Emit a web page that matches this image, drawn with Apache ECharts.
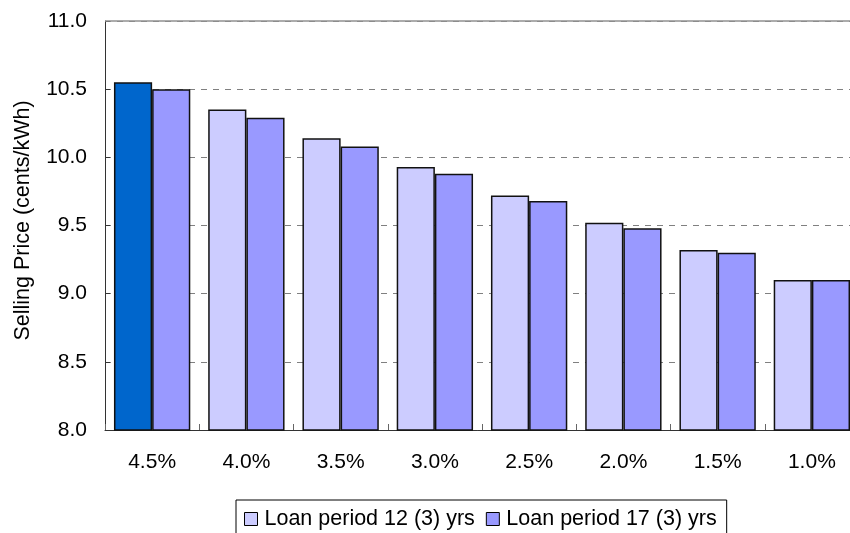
<!DOCTYPE html>
<html>
<head>
<meta charset="utf-8">
<script src="https://cdn.jsdelivr.net/npm/echarts@6/dist/echarts.min.js"></script>
<style>
  html, body { margin: 0; padding: 0; background: #fff; overflow: hidden; }
  #chart { width: 850px; height: 533px; }
</style>
</head>
<body>
<div id="chart"></div>
<script>
// Interest rate categories along the x axis
const rates = ['4.5%', '4.0%', '3.5%', '3.0%', '2.5%', '2.0%', '1.5%', '1.0%'];
// Selling price (cents/kWh) for each loan period
const loan12 = [10.55, 10.35, 10.14, 9.93, 9.72, 9.52, 9.32, 9.10];
const loan17 = [10.50, 10.29, 10.08, 9.88, 9.68, 9.48, 9.30, 9.10];
const seriesNames = ['Loan period 12 (3) yrs', 'Loan period 17 (3) yrs'];
const yTicks = { min: 8.0, max: 11.0, interval: 0.5 };

const FONT = '"Liberation Sans", Arial, sans-serif';
const lightColor = '#CCCCFF';
const midColor = '#9999FF';
const highlight = '#0066CC';

const chart = echarts.init(document.getElementById('chart'), null, { renderer: 'canvas' });

const loan12Data = loan12.map((v, i) => i === 0
  ? { value: v, itemStyle: { color: highlight } }
  : v);

chart.setOption({
  animation: false,
  backgroundColor: '#ffffff',
  textStyle: { fontFamily: FONT },
  // plot area runs slightly past the right edge of the canvas
  grid: { left: 105, top: 21, width: 754, height: 409, outerBoundsMode: 'none', containLabel: false },
  legend: {
    top: 500, left: 236,
    itemWidth: 13, itemHeight: 13, itemGap: 11,
    borderColor: '#000', borderWidth: 1, padding: [8, 10, 12, 8],
    textStyle: { fontFamily: FONT, fontSize: 21.5, color: '#000', padding: [0, 0, 0, 2] },
    data: seriesNames.map((n, i) => ({
      name: n,
      icon: 'rect',
      itemStyle: { color: i === 0 ? lightColor : midColor, borderColor: '#000', borderWidth: 1 }
    }))
  },
  xAxis: {
    type: 'category',
    data: rates,
    axisLine: { lineStyle: { color: '#333', width: 1 } },
    axisTick: { show: true, inside: true, length: 6, lineStyle: { color: '#666' } },
    axisLabel: { fontFamily: FONT, fontSize: 21, color: '#000', margin: 22 }
  },
  yAxis: {
    type: 'value',
    min: yTicks.min, max: yTicks.max, interval: yTicks.interval,
    name: 'Selling Price (cents/kWh)',
    nameLocation: 'middle',
    nameGap: 71,
    nameRotate: 90,
    nameTextStyle: { fontFamily: FONT, fontSize: 21.5, color: '#000', padding: [0, 0, 0, 10] },
    axisLine: { show: true, lineStyle: { color: '#333', width: 1 } },
    axisTick: { show: true, inside: true, length: 5, lineStyle: { color: '#333' } },
    axisLabel: {
      fontFamily: FONT, fontSize: 21, color: '#000', margin: 18,
      formatter: v => v.toFixed(1)
    },
    splitLine: { show: true, lineStyle: { color: '#808080', type: [6, 6], width: 1 } }
  },
  series: [
    {
      name: seriesNames[0],
      type: 'bar',
      data: loan12Data,
      barGap: '0%',
      barCategoryGap: '19%',
      itemStyle: { color: lightColor, borderColor: '#111', borderWidth: 1.5 },
      // solid top edge of the plot area
      markLine: {
        silent: true, symbol: 'none', label: { show: false },
        lineStyle: { color: '#909090', type: 'solid', width: 1.5 },
        data: [{ yAxis: yTicks.max }]
      }
    },
    {
      name: seriesNames[1],
      type: 'bar',
      data: loan17,
      itemStyle: { color: midColor, borderColor: '#111', borderWidth: 1.5 }
    }
  ]
});
</script>
</body>
</html>
